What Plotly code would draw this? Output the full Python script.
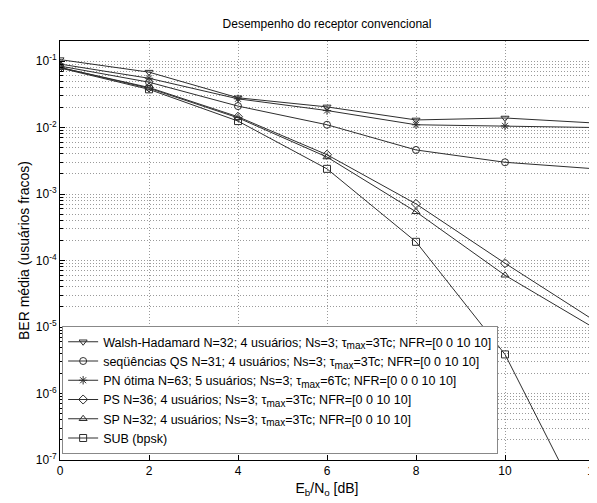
import plotly.graph_objects as go

ebno = [0, 2, 4, 6, 8, 10, 12]

walsh = [0.105, 0.068, 0.028, 0.0204, 0.0130, 0.0139, 0.0117]
pn    = [0.090, 0.055, 0.027, 0.0180, 0.0110, 0.0106, 0.0100]
qs    = [0.084, 0.048, 0.021, 0.0110, 0.0046, 0.0030, 0.0024]
ps    = [0.080, 0.040, 0.0145, 0.0039, 0.00071, 9.1e-5, 1.26e-5]
sp    = [0.080, 0.039, 0.0140, 0.0036, 0.00054, 6.0e-5, 9.7e-6]
sub   = [0.0786, 0.0375, 0.0125, 0.00239, 1.91e-4, 3.87e-6, 9.0e-9]

tau = 'τ<sub><span style="font-size:10px">max</span></sub>'
names = [
    f"Walsh-Hadamard N=32; 4 usuários; Ns=3; {tau}=3Tc; NFR=[0 0 10 10]",
    f"seqüências QS N=31; 4 usuários; Ns=3; {tau}=3Tc; NFR=[0 0 10 10]",
    f"PN ótima N=63; 5 usuários; Ns=3; {tau}=6Tc; NFR=[0 0 0 10 10]",
    f"PS N=36; 4 usuários; Ns=3; {tau}=3Tc; NFR=[0 0 10 10]",
    f"SP N=32; 4 usuários; Ns=3; {tau}=3Tc; NFR=[0 0 10 10]",
    "SUB (bpsk)",
]
series = [walsh, qs, pn, ps, sp, sub]
symbols = ["triangle-down-open", "circle-open", "asterisk-open",
           "diamond-open", "triangle-up-open", "square-open"]

decades = [-7, -6, -5, -4, -3, -2, -1]
mantissas = [2, 3, 4, 5, 6, 7, 8, 9]

fig = go.Figure()
for nm, ys, sym in zip(names, series, symbols):
    fig.add_trace(go.Scatter(
        x=ebno, y=ys, name=nm, mode="lines+markers",
        line=dict(color="#2e2e2e", width=1),
        marker=dict(symbol=sym, size=7, color="#2e2e2e",
                    line=dict(color="#2e2e2e", width=1)),
    ))

ytickvals = [10.0 ** e for e in decades]
yticktext = [f"10<sup>{e}</sup>" for e in decades]
yminor = [m * 10.0 ** e for e in decades for m in mantissas if m * 10.0 ** e <= 0.2001]

font = dict(family="Liberation Sans, Arial, sans-serif", size=12, color="black")
grid = dict(showgrid=True, gridcolor="#9a9a9a", griddash="1px,2px", gridwidth=1)

# The page body adds an 8px offset; the figure is sized to fill the rest of the window.
fig.update_layout(
    width=589, height=495,
    margin=dict(l=52, r=3, t=33, b=43, autoexpand=False),
    paper_bgcolor="white", plot_bgcolor="white",
    font=font,
    title=dict(text="Desempenho do receptor convencional", xref="paper", x=0.5,
               xanchor="center", yref="container", y=0.968, yanchor="middle",
               font=dict(size=12)),
    showlegend=True,
    legend=dict(x=0.004, y=0.014, xanchor="left", yanchor="bottom",
                bgcolor="white", bordercolor="#888888", borderwidth=1,
                font=dict(size=12.5), tracegroupgap=0, itemwidth=30),
    xaxis=dict(range=[0, 12], tickvals=[0, 2, 4, 6, 8, 10, 12], automargin=False,
               ticklabeloverflow="allow",
               showline=True, linecolor="black", linewidth=1, mirror=True,
               ticks="inside", ticklen=5, tickcolor="black",
               zeroline=False, **grid,
               title=dict(text="E<sub>b</sub>/N<sub>o</sub> [dB]", standoff=5)),
    yaxis=dict(type="log", range=[-7, -0.699], automargin=False,
               tickvals=ytickvals, ticktext=yticktext,
               showline=True, linecolor="black", linewidth=1, mirror=True,
               ticks="inside", ticklen=5, tickcolor="black",
               zeroline=False, **grid,
               minor=dict(tickvals=yminor, ticks="inside", ticklen=3, tickcolor="black",
                          **grid),
               title=dict(text="BER média (usuários fracos)", standoff=2)),
)

fig.write_html("out.html")
